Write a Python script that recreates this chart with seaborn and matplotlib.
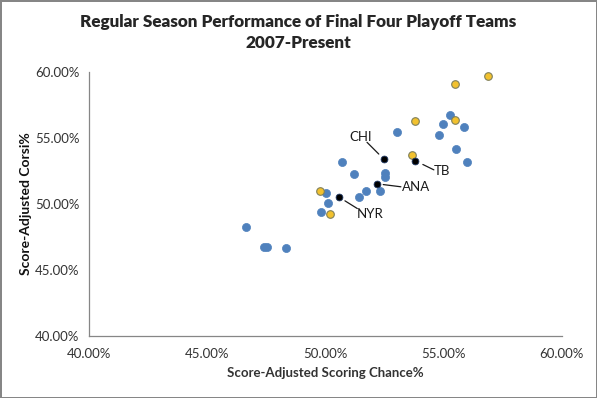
import matplotlib
matplotlib.use("Agg")
import numpy as np
import matplotlib.pyplot as plt
import seaborn as sns
import pandas as pd
from matplotlib.lines import Line2D
from matplotlib.transforms import IdentityTransform
from matplotlib.ticker import FuncFormatter, MultipleLocator

# ---- data (percent) ----
blue_x = [46.64, 47.40, 47.53, 48.33, 49.81, 50.02, 50.10, 50.70, 51.20, 51.41, 51.72,
          52.31, 52.52, 52.52, 53.02, 54.81, 55.00, 55.29, 55.89, 55.52, 56.00]
blue_y = [48.25, 46.73, 46.73, 46.66, 49.39, 50.84, 50.08, 53.16, 52.28, 50.53, 50.99,
          50.99, 52.38, 52.05, 55.47, 55.24, 56.08, 56.76, 55.85, 54.18, 53.19]
gold_x = [49.78, 50.20, 53.80, 53.67, 55.47, 55.47, 56.87]
gold_y = [50.99, 49.22, 56.30, 53.70, 59.14, 56.38, 59.72]
team_names = ["CHI", "TB", "ANA", "NYR"]
team_x = [52.47, 53.80, 52.17, 50.59]
team_y = [53.42, 53.29, 51.54, 50.51]

title = "Regular Season Performance of Final Four Playoff Teams\n2007-Present"
x_label = "Score-Adjusted Scoring Chance%"
y_label = "Score-Adjusted Corsi%"

blue_df = pd.DataFrame({"x": blue_x, "y": blue_y})
gold_df = pd.DataFrame({"x": gold_x, "y": gold_y})
team_df = pd.DataFrame({"x": team_x, "y": team_y, "team": team_names})

sns.set_style("white")
plt.rcParams["font.family"] = ["Lato", "DejaVu Sans"]

DPI = 100
fig = plt.figure(figsize=(5.97, 3.98), dpi=DPI)
fig.patch.set_edgecolor("#868686")
fig.patch.set_linewidth(2)
ax = fig.add_axes([0.1492, 0.1565, 0.7915, 0.6618])

sns.scatterplot(data=blue_df, x="x", y="y", ax=ax, color="#4F81BD", s=34,
                edgecolor="#4F81BD", linewidth=0.5, zorder=3)
sns.scatterplot(data=gold_df, x="x", y="y", ax=ax, color="#F2C12E", s=30,
                edgecolor="#7F7F5A", linewidth=0.8, zorder=4)
sns.scatterplot(data=team_df, x="x", y="y", ax=ax, color="#000000", s=24,
                edgecolor="#1F3864", linewidth=0.6, zorder=5)

ax.set_xlim(40, 60)
ax.set_ylim(40, 60)

# label placement (offset points from the team's marker)
text_off = {"CHI": (-16.5, 16.0), "TB": (19.5, -7.2), "ANA": (28.5, -2.6), "NYR": (22.5, -12.0)}
line_off = {"CHI": (-12.0, 12.0), "TB": (13.5, -6.6), "ANA": (17.5, -2.2), "NYR": (13.0, -8.1)}
line_gap = {"CHI": 5.0, "TB": 6.2, "ANA": 4.8, "NYR": 4.8}
pt2px = DPI / 72.0
for name, xv, yv in zip(team_names, team_x, team_y):
    ax.annotate(name, xy=(xv, yv), xytext=text_off[name], textcoords="offset points",
                ha="center", va="center", fontsize=9.5, color="#1a1a1a", zorder=6)
    px, py = ax.transData.transform((xv, yv))
    ox, oy = line_off[name]
    d = np.hypot(ox, oy)
    ux, uy = ox / d, oy / d
    g = line_gap[name]
    xs = [px + ux * g * pt2px, px + ox * pt2px]
    ys = [py + uy * g * pt2px, py + oy * pt2px]
    fig.add_artist(Line2D(xs, ys, transform=IdentityTransform(), color="#1a1a1a",
                          lw=0.9, zorder=10))

ax.xaxis.set_major_locator(MultipleLocator(5))
ax.yaxis.set_major_locator(MultipleLocator(5))
fmt = FuncFormatter(lambda v, p: f"{v:.2f}%")
ax.xaxis.set_major_formatter(fmt)
ax.yaxis.set_major_formatter(fmt)

for side in ["top", "right"]:
    ax.spines[side].set_visible(False)
for side in ["left", "bottom"]:
    ax.spines[side].set_color("#868686")
    ax.spines[side].set_linewidth(0.9)
ax.tick_params(axis="both", direction="out", length=4, width=0.9, color="#868686",
               labelsize=9.5, labelcolor="#333333", pad=3)
ax.tick_params(axis="x", pad=5)
ax.grid(False)

ax.set_xlabel(x_label, fontsize=9.5, fontweight="bold", color="#333333", labelpad=5)
ax.set_ylabel(y_label, fontsize=10, fontweight="bold", color="#111111", labelpad=2)
fig.suptitle(title, fontsize=12.3, fontweight="heavy", y=0.965, linespacing=1.4)

fig.savefig("out.png", dpi=DPI, edgecolor=fig.get_edgecolor())
